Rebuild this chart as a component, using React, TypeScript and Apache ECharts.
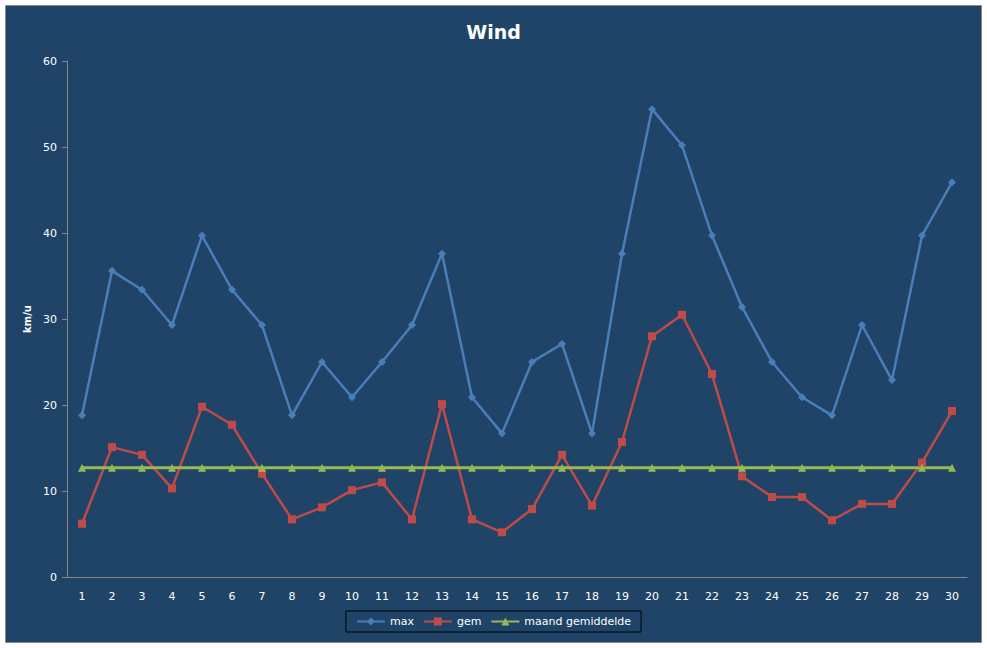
import React, { useEffect, useRef } from "react";
import * as echarts from "echarts";

const days: string[] = Array.from({ length: 30 }, (_, i) => String(i + 1));

const maxWind: number[] = [
  18.8, 35.6, 33.4, 29.3, 39.7, 33.4, 29.3, 18.8, 25, 20.9,
  25, 29.3, 37.6, 20.9, 16.7, 25, 27.1, 16.7, 37.6, 54.4,
  50.2, 39.7, 31.4, 25, 20.9, 18.8, 29.3, 22.9, 39.7, 45.9,
];

const gemWind: number[] = [
  6.2, 15.1, 14.2, 10.3, 19.8, 17.7, 12, 6.7, 8.1, 10.1,
  11, 6.7, 20.1, 6.7, 5.2, 7.9, 14.2, 8.3, 15.7, 28,
  30.5, 23.6, 11.7, 9.3, 9.3, 6.6, 8.5, 8.5, 13.3, 19.3,
];

const maandGemiddelde: number[] = days.map(() => 12.7);

const App: React.FC = () => {
  const chartRef = useRef<HTMLDivElement | null>(null);

  useEffect(() => {
    document.body.style.margin = "0";
    const chartDom = chartRef.current;
    if (!chartDom) return;
    const myChart = echarts.init(chartDom, undefined, { renderer: "svg" });

    const font = "DejaVu Sans";

    const option = {
      animation: false,
      backgroundColor: "#ffffff",
      graphic: [
        {
          type: "rect",
          z: -10,
          shape: { x: 5.5, y: 5.5, width: 976, height: 637 },
          style: { fill: "#1F4468", stroke: "#8a8a8a", lineWidth: 1 },
        },
      ],
      title: {
        text: "Wind",
        left: "center",
        top: 17,
        textStyle: {
          color: "#ffffff",
          fontSize: 19,
          fontWeight: "bold",
          fontFamily: font,
        },
      },
      legend: {
        top: 611,
        left: "center",
        padding: [5, 10],
        borderColor: "#000000",
        borderWidth: 1,
        itemWidth: 28,
        itemHeight: 10,
        itemGap: 9,
        textStyle: { color: "#ffffff", fontSize: 11, fontFamily: font },
        data: ["max", "gem", "maand gemiddelde"],
      },
      grid: { left: 67, right: 20, top: 61, bottom: 71 },
      xAxis: {
        type: "category",
        data: days,
        boundaryGap: true,
        axisLine: { lineStyle: { color: "#868686", width: 1 } },
        axisTick: { length: 5, lineStyle: { color: "#868686" } },
        axisLabel: {
          color: "#ffffff",
          fontSize: 11,
          fontFamily: font,
          margin: 14,
          interval: 0,
        },
        splitLine: { show: false },
      },
      yAxis: {
        type: "value",
        min: 0,
        max: 60,
        interval: 10,
        name: "km/u",
        nameLocation: "middle",
        nameGap: 32,
        nameTextStyle: {
          color: "#ffffff",
          fontSize: 10,
          fontWeight: "bold",
          fontFamily: font,
        },
        axisLine: { show: true, lineStyle: { color: "#868686", width: 1 } },
        axisTick: { show: true, length: 5, lineStyle: { color: "#868686" } },
        axisLabel: {
          color: "#ffffff",
          fontSize: 11,
          fontFamily: font,
          margin: 10,
        },
        splitLine: { show: false },
      },
      series: [
        {
          name: "max",
          type: "line",
          data: maxWind,
          symbol: "diamond",
          symbolSize: 8,
          lineStyle: { color: "#4A7EBB", width: 2.5 },
          itemStyle: { color: "#4A7EBB" },
        },
        {
          name: "gem",
          type: "line",
          data: gemWind,
          symbol: "rect",
          symbolSize: 8,
          lineStyle: { color: "#BE4B48", width: 2.5 },
          itemStyle: { color: "#BE4B48" },
        },
        {
          name: "maand gemiddelde",
          type: "line",
          data: maandGemiddelde,
          symbol: "triangle",
          symbolSize: 8,
          lineStyle: { color: "#98B954", width: 3 },
          itemStyle: { color: "#98B954" },
        },
      ],
    };

    myChart.setOption(option);

    return () => {
      myChart.dispose();
    };
  }, []);

  return <div ref={chartRef} style={{ width: 987, height: 648 }} />;
};

export default App;
